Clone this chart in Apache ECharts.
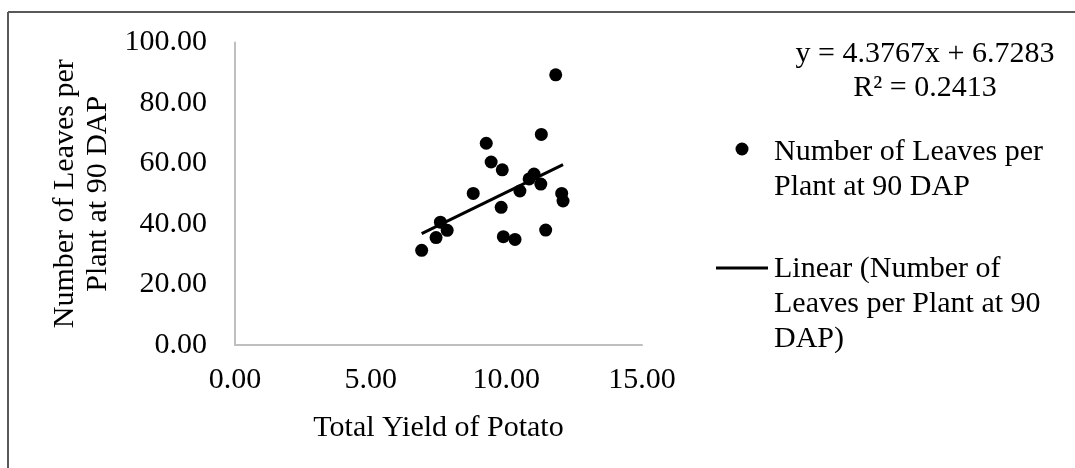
<!DOCTYPE html>
<html>
<head>
<meta charset="utf-8">
<script src="https://cdn.jsdelivr.net/npm/echarts@6/dist/echarts.min.js"></script>
<style>
html,body{margin:0;padding:0;background:#fff;}
#chart{width:1075px;height:468px;}
</style>
</head>
<body>
<div id="chart"></div>
<script>
// Data
var yieldValues = [11.82, 11.29, 9.26, 9.44, 9.85, 11.02, 10.84, 11.27, 10.50, 8.78, 12.04, 12.09, 9.81, 7.57, 7.82, 7.41, 9.89, 10.32, 11.45, 6.88];
var leafValues  = [89.3, 69.6, 66.7, 60.5, 57.9, 56.5, 54.9, 53.2, 50.9, 50.1, 50.1, 47.6, 45.5, 40.6, 37.9, 35.5, 35.8, 34.9, 38.0, 31.3];
var trendX = [6.88, 12.09];
var trendY = [36.84, 59.64];
var xTicks = [0, 5, 10, 15];
var yTicks = [0, 20, 40, 60, 80, 100];
var equationText = 'y = 4.3767x + 6.7283';
var r2Text = 'R² = 0.2413';
var seriesName = 'Number of Leaves per Plant at 90 DAP';
var trendName = 'Linear (Number of Leaves per Plant at 90 DAP)';

var FONT = '"Liberation Serif", "Times New Roman", serif';
var FS = 30;
var scatterData = yieldValues.map(function (x, i) { return [x, leafValues[i]]; });
var trendData = trendX.map(function (x, i) { return [x, trendY[i]]; });

var chart = echarts.init(document.getElementById('chart'), null, {renderer: 'canvas'});
chart.setOption({
  backgroundColor: '#ffffff',
  animation: false,
  textStyle: {fontFamily: FONT},
  grid: {left: 235, right: 433, top: 42.5, bottom: 123, containLabel: false},
  xAxis: {
    type: 'value', min: xTicks[0], max: xTicks[xTicks.length - 1], interval: 5,
    name: 'Total Yield of Potato', nameLocation: 'middle', nameGap: 68,
    nameTextStyle: {fontFamily: FONT, fontSize: FS, color: '#000'},
    axisLine: {show: true, lineStyle: {color: '#bfbfbf', width: 2}},
    axisTick: {show: false},
    splitLine: {show: false},
    axisLabel: {fontFamily: FONT, fontSize: FS, color: '#000', margin: 20,
      formatter: function (v) { return v.toFixed(2); }}
  },
  yAxis: {
    type: 'value', min: yTicks[0], max: yTicks[yTicks.length - 1], interval: 20,
    name: 'Number of Leaves per\nPlant at 90 DAP', nameLocation: 'middle', nameGap: 120,
    nameRotate: 90,
    nameTextStyle: {fontFamily: FONT, fontSize: FS, color: '#000', lineHeight: 33},
    axisLine: {show: true, lineStyle: {color: '#bfbfbf', width: 2}},
    axisTick: {show: false},
    splitLine: {show: false},
    axisLabel: {fontFamily: FONT, fontSize: FS, color: '#000', margin: 28,
      formatter: function (v) { return v.toFixed(2); }}
  },
  series: [
    {
      name: seriesName, type: 'scatter', data: scatterData,
      symbol: 'circle', symbolSize: 13,
      itemStyle: {color: '#000', opacity: 1}, z: 3
    },
    {
      name: trendName, type: 'line', data: trendData,
      showSymbol: false, symbol: 'none',
      lineStyle: {color: '#000', width: 3}, z: 2
    }
  ],
  graphic: [
    {type: 'line', shape: {x1: 8, y1: 12, x2: 1080, y2: 12}, style: {stroke: '#595959', lineWidth: 2}},
    {type: 'line', shape: {x1: 8, y1: 12, x2: 8, y2: 480}, style: {stroke: '#595959', lineWidth: 2}},
    {type: 'text', x: 925, y: 54, style: {text: equationText, font: FS + 'px ' + FONT, fill: '#000', textAlign: 'center', textVerticalAlign: 'middle'}},
    {type: 'text', x: 925, y: 88, style: {text: r2Text, font: FS + 'px ' + FONT, fill: '#000', textAlign: 'center', textVerticalAlign: 'middle'}},
    {type: 'circle', shape: {cx: 742, cy: 149, r: 6.5}, style: {fill: '#000'}},
    {type: 'text', x: 774, y: 152, style: {text: 'Number of Leaves per', font: FS + 'px ' + FONT, fill: '#000', textAlign: 'left', textVerticalAlign: 'middle'}},
    {type: 'text', x: 774, y: 187, style: {text: 'Plant at 90 DAP', font: FS + 'px ' + FONT, fill: '#000', textAlign: 'left', textVerticalAlign: 'middle'}},
    {type: 'line', shape: {x1: 716, y1: 268, x2: 768, y2: 268}, style: {stroke: '#000', lineWidth: 3}},
    {type: 'text', x: 774, y: 269, style: {text: 'Linear (Number of', font: FS + 'px ' + FONT, fill: '#000', textAlign: 'left', textVerticalAlign: 'middle'}},
    {type: 'text', x: 774, y: 304, style: {text: 'Leaves per Plant at 90', font: FS + 'px ' + FONT, fill: '#000', textAlign: 'left', textVerticalAlign: 'middle'}},
    {type: 'text', x: 774, y: 339, style: {text: 'DAP)', font: FS + 'px ' + FONT, fill: '#000', textAlign: 'left', textVerticalAlign: 'middle'}}
  ]
});
</script>
</body>
</html>
